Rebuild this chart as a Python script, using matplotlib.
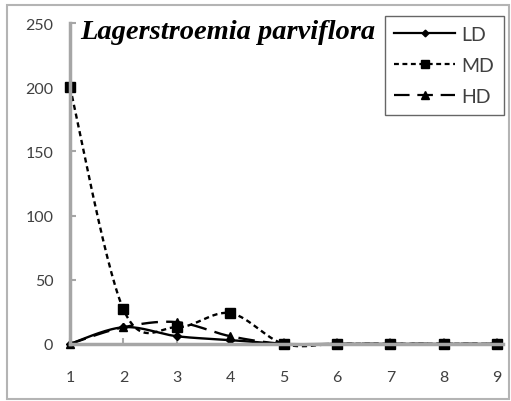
import numpy as np
import matplotlib.pyplot as plt
import matplotlib as mpl
from matplotlib.patches import Rectangle

mpl.rcParams.update({
    "font.family": "Lato",
    "font.size": 11.5,
})

stage = [1, 2, 3, 4, 5, 6, 7, 8, 9]
ld = [0, 13, 6, 3, 0, 0, 0, 0, 0]
md = [200, 27, 13, 24, 0, 0, 0, 0, 0]
hd = [0, 13, 17, 6, 0, 0, 0, 0, 0]
y_ticks = [0, 50, 100, 150, 200, 250]
title = "Lagerstroemia parviflora"

AXIS_GREY = "#a6a6a6"
TEXT_GREY = "#404040"


def smooth(x, y, n=30):
    """Bezier smoothing through every point (spreadsheet-style smoothed line)."""
    x = np.asarray(x, float)
    y = np.asarray(y, float)
    px = np.concatenate([[x[0]], x, [x[-1]]])
    py = np.concatenate([[y[0]], y, [y[-1]]])
    t = np.linspace(0, 1, n)[:, None]
    xs, ys = [], []
    for i in range(len(x) - 1):
        p0 = np.array([px[i + 1], py[i + 1]])
        p3 = np.array([px[i + 2], py[i + 2]])
        c1 = p0 + (np.array([px[i + 2], py[i + 2]]) - np.array([px[i], py[i]])) / 6
        c2 = p3 - (np.array([px[i + 3], py[i + 3]]) - np.array([px[i + 1], py[i + 1]])) / 6
        pts = ((1 - t) ** 3) * p0 + 3 * ((1 - t) ** 2) * t * c1 + 3 * (1 - t) * t ** 2 * c2 + t ** 3 * p3
        xs.append(pts[:, 0])
        ys.append(pts[:, 1])
    return np.concatenate(xs), np.concatenate(ys)


fig = plt.figure(figsize=(5.11, 4.02), dpi=100)
fig.patches.append(Rectangle((0.014, 0.004), 0.982, 0.982, transform=fig.transFigure,
                             fill=False, edgecolor="#b4b4b4", linewidth=1.5))
ax = fig.add_axes([0.137, 0.142, 0.836, 0.798])

series = [
    ("LD", ld, "-", "D", 4),
    ("MD", md, (0, (2.2, 1.6)), "s", 6.5),
    ("HD", hd, (0, (7, 3.5)), "^", 6),
]
for name, vals, ls, mk, ms in series:
    sx, sy = smooth(stage, vals)
    ax.plot(sx, sy, color="black", linestyle=ls, linewidth=1.7, clip_on=False)
    ax.plot(stage, vals, linestyle="none", marker=mk, markersize=ms,
            color="black", clip_on=False)

# legend handles combine the line style and marker
handles = [mpl.lines.Line2D([], [], color="black", linestyle=ls, linewidth=1.6,
                            marker=mk, markersize=ms * 0.85, label=name)
           for name, vals, ls, mk, ms in series]
leg = ax.legend(handles=handles, loc="upper right", bbox_to_anchor=(1.016, 1.022),
                frameon=True, fancybox=False, fontsize=14, handlelength=3.1,
                labelspacing=0.72, borderpad=0.5, handletextpad=0.35,
                borderaxespad=0, labelcolor=TEXT_GREY)
leg.get_frame().set_edgecolor("#404040")
leg.get_frame().set_linewidth(1.0)

ax.text(0.024, 0.975, title, transform=ax.transAxes, ha="left", va="center",
        family="Liberation Serif", style="italic", weight="bold", fontsize=20.5)

ax.set_xlim(1, 9)
ax.set_ylim(0, 250)
ax.set_xticks(stage)
ax.set_yticks(y_ticks)
ax.tick_params(axis="both", direction="in", length=4, width=1.5, color=AXIS_GREY,
               labelcolor=TEXT_GREY, labelsize=11.5)
ax.tick_params(axis="x", pad=19)
ax.tick_params(axis="y", pad=12)
ax.spines[["top", "right"]].set_visible(False)
for side in ["left", "bottom"]:
    ax.spines[side].set_color(AXIS_GREY)
    ax.spines[side].set_linewidth(2.5)
ax.spines["bottom"].set_bounds(1, 9.1)
ax.patch.set_visible(False)

fig.savefig("out.png", dpi=100)
